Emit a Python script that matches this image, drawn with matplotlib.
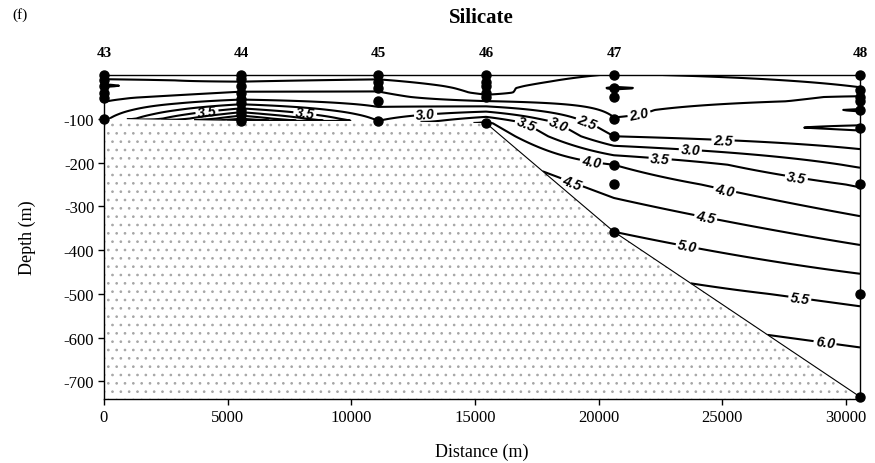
import numpy as np
import matplotlib
matplotlib.use('Agg')
import matplotlib.pyplot as plt
import matplotlib.transforms as mtransforms

plt.rcParams['axes.unicode_minus'] = False
plt.rcParams['hatch.linewidth'] = 0.7
plt.rcParams['font.family'] = ['Liberation Serif', 'DejaVu Serif']

# ---------------- data ----------------
station_names = ['43', '44', '45', '46', '47', '48']
station_dist = [0, 5540, 11080, 15450, 20620, 30570]
bottom_depth = [100, 105, 105, 110, 358, 735]

depth_43 = [0, 12, 25, 40, 52, 100]
si_43 = [1.3, 1.55, 1.48, 1.6, 1.9, 2.4]
depth_44 = [0, 10, 25, 40, 55, 65, 80, 90, 100, 105]
si_44 = [1.3, 1.42, 1.65, 2.05, 2.45, 2.9, 3.7, 4.3, 5.0, 5.6]
depth_45 = [0, 15, 30, 60, 105]
si_45 = [1.3, 1.6, 1.9, 2.3, 3.0]
depth_46 = [0, 15, 25, 40, 50, 110]
si_46 = [1.1, 1.2, 1.3, 1.4, 1.6, 4.1]
depth_47 = [0, 30, 50, 100, 140, 205, 250, 358]
si_47 = [1.55, 2.05, 1.7, 2.02, 2.5, 4.0, 4.3, 5.0]
depth_48 = [0, 35, 50, 60, 80, 120, 250, 500, 735]
si_48 = [1.3, 1.55, 2.05, 2.1, 2.55, 1.92, 3.45, 5.35, 6.6]

contour_levels = [1.0, 1.5, 2.0, 2.5, 3.0, 3.5, 4.0, 4.5, 5.0, 5.5, 6.0]
x_ticks = [0, 5000, 10000, 15000, 20000, 25000, 30000]
y_ticks = [-100, -200, -300, -400, -500, -600, -700]

# ---------------- gridding (constant-depth linear interpolation) ----------------
depth_lists = [depth_43, depth_44, depth_45, depth_46, depth_47, depth_48]
si_lists = [si_43, si_44, si_45, si_46, si_47, si_48]
sx = np.array(station_dist, float)
sb = np.array(bottom_depth, float)
vbot = np.array([np.interp(b, d, v) for b, d, v in zip(sb, depth_lists, si_lists)])

gx = np.linspace(0, sx[-1], 900)
gz = np.linspace(0, sb.max(), 600)
gbed = np.interp(gx, sx, sb)
V = np.full((gz.size, gx.size), np.nan)
for k, z in enumerate(gz):
    px, pv = [], []
    for i in range(len(sx)):
        if sb[i] >= z:
            px.append(sx[i])
            pv.append(np.interp(z, depth_lists[i], si_lists[i]))
    for i in range(len(sx) - 1):
        lo, hi = sorted((sb[i], sb[i + 1]))
        if lo < z < hi:
            fr = (z - sb[i]) / (sb[i + 1] - sb[i])
            px.append(sx[i] + fr * (sx[i + 1] - sx[i]))
            pv.append(vbot[i] + fr * (vbot[i + 1] - vbot[i]))
    if not px:
        continue
    order = np.argsort(px)
    row = np.interp(gx, np.array(px)[order], np.array(pv)[order])
    row[gbed < z - 1.0] = np.nan
    V[k] = row
V = np.ma.masked_invalid(V)
GX, GZ = np.meshgrid(gx, -gz)

xs, zs = [], []
for s, dl in zip(station_dist, depth_lists):
    for d in dl:
        xs.append(s)
        zs.append(-d)

# ---------------- figure ----------------
fig = plt.figure(figsize=(8.75, 4.64), dpi=100)
ax = fig.add_axes([104 / 875, 1 - 400 / 464, 756 / 875, 324 / 464])

cs = ax.contour(GX, GZ, V, levels=contour_levels, colors='black', linewidths=1.5)

label_pos = [(21670, -100), (19530, -107), (25030, -150), (18320, -118),
             (23700, -179), (13000, -88), (17020, -116), (22480, -197),
             (27940, -254), (8130, -84), (19730, -190), (25030, -281),
             (18960, -240), (24300, -334), (23570, -395), (28140, -508),
             (29150, -614), (4160, -82)]
lbls = ax.clabel(cs, manual=label_pos, inline=True, fmt='%.1f', fontsize=10,
                 inline_spacing=3)
for t in lbls:
    t.set_fontfamily('Liberation Sans')
    t.set_fontweight('bold')
    t.set_fontstyle('italic')

ylo = -740
bx = list(station_dist) + [station_dist[-1], station_dist[0]]
bz = [-d for d in bottom_depth] + [ylo, ylo]
ax.fill(bx, bz, facecolor='white', edgecolor='#a6a6a6', hatch='..',
        linewidth=0, zorder=3)
ax.plot(station_dist[3:], [-d for d in bottom_depth[3:]], color='black',
        linewidth=0.8, zorder=4)

ax.plot(xs, zs, 'o', color='black', markersize=6.5, zorder=6, clip_on=False)

ax.set_xlim(0, station_dist[-1])
ax.set_ylim(ylo, 0)
ax.set_xticks(x_ticks)
ax.set_xticklabels([str(v) for v in x_ticks])
ax.set_yticks(y_ticks)
ax.set_yticklabels([str(v) for v in y_ticks])
ax.tick_params(direction='out', length=4, width=1, labelsize=12, pad=3)
for sp in ax.spines.values():
    sp.set_linewidth(1.0)
    sp.set_zorder(5)

ax.set_xlabel('Distance (m)', fontsize=13)
ax.xaxis.set_label_coords(0.5, -0.135)
ax.set_ylabel('Depth (m)', fontsize=13)
ax.yaxis.set_label_coords(-0.09, 0.5)

trans = mtransforms.blended_transform_factory(ax.transData, ax.transAxes)
for s, name in zip(station_dist, station_names):
    ax.text(s, 1.068, name, transform=trans, ha='center', va='center',
            fontsize=11, fontweight='bold')

fig.text(481 / 875, 1 - 18 / 464, 'Silicate', ha='center', va='center',
         fontsize=15, fontweight='bold')
fig.text(20 / 875, 1 - 15 / 464, '(f)', ha='center', va='center', fontsize=11)

fig.savefig('out.png', dpi=100)
